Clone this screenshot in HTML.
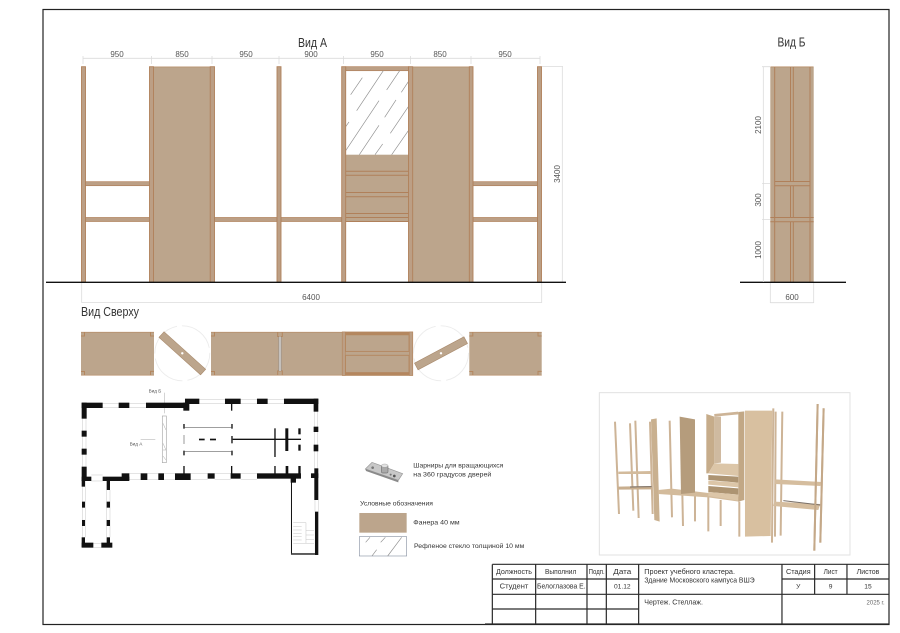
<!DOCTYPE html>
<html><head><meta charset="utf-8"><style>
html,body{margin:0;padding:0;background:#fff}
svg{display:block}
text{font-family:"Liberation Sans",sans-serif;fill:#333}
.d{font-size:8px;fill:#555;text-anchor:middle}
.dl{stroke:#dcdcdc;stroke-width:.8;fill:none}
.p{fill:#bc9f85;stroke:#b0805a;stroke-width:.9}
.s{fill:#bc9f85;stroke:#b0805a;stroke-width:.7}
.f{fill:#bca58c}
.c{fill:none;stroke:#b4875f;stroke-width:1}
.h{stroke:#909090;stroke-width:2;fill:none}
.k{fill:#111}
.w{fill:none;stroke:#c8c8c8;stroke-width:1.5}
.g{stroke:#2a2a2a;stroke-width:3.6;fill:none}
.m{stroke:#cdb497;stroke-width:6;fill:none}
.m2{stroke:#c4a888;stroke-width:6;fill:none}
</style></head><body>
<svg width="900" height="633" viewBox="0 0 900 633" xmlns="http://www.w3.org/2000/svg">
<rect width="900" height="633" fill="#fff"/>
<rect x="43" y="9.5" width="846" height="615" fill="none" stroke="#222" stroke-width="1.2"/>

<!-- titles -->
<text x="298" y="47" style="font-size:12.5px" textLength="29" lengthAdjust="spacingAndGlyphs">Вид А</text>
<text x="777.5" y="46.5" style="font-size:12.5px" textLength="28" lengthAdjust="spacingAndGlyphs">Вид Б</text>
<text x="81" y="316" style="font-size:13px" textLength="58" lengthAdjust="spacingAndGlyphs">Вид Сверху</text>

<!-- dimensions view A -->
<path class="dl" d="M83 58.3H540M83 56v8M151.5 56v8M212 56v8M279 56v8M343.5 56v8M410.5 56v8M471 56v8M540 56v8"/>
<g>
<text class="d" x="117" y="57">950</text><text class="d" x="182" y="57">850</text>
<text class="d" x="246" y="57">950</text><text class="d" x="311" y="57">900</text>
<text class="d" x="377" y="57">950</text><text class="d" x="440" y="57">850</text>
<text class="d" x="505" y="57">950</text>
</g>
<path class="dl" d="M542 66.5H563M562.3 66.5V282M81.7 283V302.5H541.7V283"/>
<text class="d" transform="translate(560,174) rotate(-90)">3400</text>
<text class="d" x="311" y="300">6400</text>

<!-- Elevation A -->
<rect class="f" x="153.5" y="66.7" width="57" height="215.5"/>
<path d="M153.5 66.9H210" stroke="#b4875f" stroke-width=".6"/>
<rect class="f" x="412.5" y="66.7" width="57" height="215.5"/>
<path d="M412.5 66.9H469" stroke="#b4875f" stroke-width=".6"/>
<rect class="s" x="85" y="181.7" width="65" height="4"/>
<rect class="s" x="85" y="217.5" width="65" height="4"/>
<rect class="s" x="214.5" y="217.5" width="63" height="4"/>
<rect class="s" x="281" y="217.5" width="61" height="4"/>
<rect class="s" x="473" y="181.7" width="65" height="4"/>
<rect class="s" x="473" y="217.5" width="65" height="4"/>
<rect class="f" x="345.7" y="154.7" width="63" height="67"/>
<path d="M345.7 171.3H408.5M345.7 175.3H408.5M345.7 192.5H408.5M345.7 196.7H408.5M345.7 213.5H408.5M345.7 217.5H408.5M345.7 221.5H408.5" stroke="#b0805a" stroke-width="1"/>
<rect class="s" x="345.7" y="66.7" width="63" height="4"/>
<g transform="translate(330,30) scale(.3333)">
<path class="h" d="M62 194L97 143M80 242L160 122M170 180L209 122M214 187L235 155M164 262L198 210M47 290L57 276M47 362L147 212M181 310L235 230M88 374L147 286M135 374L158 342M185 374L235 302"/>
</g>
<rect class="p" x="81.5" y="66.7" width="4" height="215.5"/>
<rect class="p" x="149.5" y="66.7" width="4" height="215.5"/>
<rect class="p" x="210.2" y="66.7" width="4.3" height="215.5"/>
<rect class="p" x="277" y="66.7" width="4" height="215.5"/>
<rect class="p" x="341.7" y="66.7" width="4" height="215.5"/>
<rect class="p" x="408.5" y="66.7" width="4.2" height="215.5"/>
<rect class="p" x="469.3" y="66.7" width="3.7" height="215.5"/>
<rect class="p" x="537.5" y="66.7" width="4" height="215.5"/>
<path d="M46 282.3H566" stroke="#111" stroke-width="1.3"/>

<!-- View B -->
<rect class="f" x="770.3" y="66.7" width="43.4" height="215.5"/>
<path d="M770.5 66.9H813.5" stroke="#b4875f" stroke-width=".8"/>
<path d="M774.7 181.5H810M774.7 185.7H810M770.3 217.5H813.7M770.3 221.7H813.7" stroke="#b0805a" stroke-width="1"/>
<path d="M774.7 67V282M810 67V282M790.5 67V181.5M793.3 67V181.5M790.5 185.7V217.5M793.3 185.7V217.5M790.5 221.7V282M793.3 221.7V282" stroke="#b0805a" stroke-width="1"/>
<path d="M740 282.3H846" stroke="#111" stroke-width="1.3"/>
<path class="dl" d="M763.3 66.7V282M762 66.7h8M762 183.5h8M762 219.5h8M770.3 283V303M813.7 283V303M770.3 302.7H813.7"/>
<text class="d" transform="translate(761,125) rotate(-90)">2100</text>
<text class="d" transform="translate(761,200) rotate(-90)">300</text>
<text class="d" transform="translate(761,250) rotate(-90)">1000</text>
<text class="d" x="792" y="300">600</text>

<!-- Top view -->
<g>
<rect class="f" x="81" y="332" width="73" height="43.4"/>
<rect class="f" x="211" y="332" width="131" height="43.4"/>
<rect class="f" x="469.3" y="332" width="72.4" height="43.4"/>
<rect class="f" x="342" y="332" width="70.7" height="43.4"/>
<path d="M81 332.2H154M81 375.2H154M211 332.2H342M211 375.2H342M469.3 332.2H541.7M469.3 375.2H541.7" stroke="#b4875f" stroke-width=".6"/>
<path class="c" stroke-width=".8" d="M81 336h3.5v-4M150.5 332v4h3.5M81 371.5h3.5v4M150.5 375.4v-4h3.5M211 336h3.5v-4M211 371.5h3.5v4M469.3 336h3.5v-4M538 332v4h3.7M469.3 371.5h3.5v4M538 375.4v-4h3.7M277.7 332v4.5h4.6V332M277.7 375.4v-4.5h4.6v4.5"/>
<rect x="279" y="336.5" width="2" height="34.5" fill="#e8e4e0"/>
<path d="M279 336.5V371M281 336.5V371" stroke="#8f8a86" stroke-width=".8"/>
<rect x="342.3" y="332" width="70.4" height="43.4" fill="none" stroke="#b4875f" stroke-width=".8"/>
<rect x="342.3" y="332" width="3" height="43.4" fill="#bc9f85" stroke="#b4875f" stroke-width=".6"/>
<rect x="409.4" y="332" width="3.3" height="43.4" fill="#bc9f85" stroke="#b4875f" stroke-width=".6"/>
<rect x="345.3" y="332" width="64" height="2.6" fill="#b4875f"/>
<rect x="345.3" y="372.6" width="64" height="2.6" fill="#b4875f"/>
<rect x="345.5" y="334.8" width="63.5" height="16.6" fill="none" stroke="#b4875f" stroke-width=".9"/>
<rect x="345.5" y="355.3" width="63.5" height="17.3" fill="none" stroke="#b4875f" stroke-width=".9"/>

<circle cx="182.3" cy="353.3" r="27.5" fill="none" stroke="#ececec" stroke-width=".9" stroke-dasharray="38 5"/>
<circle cx="441" cy="353.3" r="27.5" fill="none" stroke="#ececec" stroke-width=".9" stroke-dasharray="38 5"/>
<rect x="154.3" y="349.5" width="56" height="7.6" transform="rotate(42 182.3 353.3)" fill="#bca58c" stroke="#a98a6c" stroke-width=".6"/>
<rect x="413" y="349.5" width="56" height="7.6" transform="rotate(-28 441 353.3)" fill="#bca58c" stroke="#a98a6c" stroke-width=".6"/>
<circle cx="182.3" cy="353.3" r="1.2" fill="#fff"/>
<circle cx="441" cy="353.3" r="1.2" fill="#fff"/>
</g>

<!-- Plan -->
<g transform="translate(70,380) scale(.3333)">
<text x="255" y="37" text-anchor="middle" style="font-size:14px;fill:#555">Вид Б</text>
<text x="198" y="197" text-anchor="middle" style="font-size:14px;fill:#555">Вид А</text>
<path d="M283 38V100M212 178H256" stroke="#aaa" stroke-width="1.5"/>
<path class="w" d="M98 70H146M98 82H146M178 70H228M178 82H228M388 58H465M388 70H465M512 58H561M512 70H561M593 58H642M593 70H642M37 116V260M48 116V260M733 95V265M743 95V265M178 280H212M178 298H212M232 280H265M232 298H265M282 280H315M282 298H315M362 280H413M362 298H413M434 280H482M434 298H482M512 280H561M512 298H561M735 360V395M745 360V395M37 300V472M47 300V472M110 330V472M120 330V472M64 285H98M64 303H98M70 490H94M70 503H94"/>
<g class="k">
<rect x="35" y="68" width="63" height="16"/><rect x="146" y="68" width="32" height="16"/><rect x="228" y="68" width="120" height="16"/>
<rect x="345" y="56" width="43" height="16"/><rect x="340" y="68" width="18" height="24"/><rect x="465" y="56" width="47" height="16"/><rect x="561" y="56" width="32" height="16"/><rect x="642" y="56" width="103" height="16"/>
<rect x="35" y="68" width="15" height="48"/><rect x="35" y="152" width="15" height="18"/><rect x="35" y="206" width="15" height="18"/><rect x="35" y="260" width="15" height="42"/>
<rect x="731" y="56" width="14" height="39"/><rect x="731" y="140" width="14" height="16"/><rect x="731" y="194" width="14" height="20"/><rect x="733" y="265" width="12" height="95"/><rect x="735" y="395" width="10" height="130"/>
<rect x="35" y="290" width="29" height="13"/><rect x="98" y="290" width="80" height="13"/><rect x="155" y="280" width="23" height="20"/><rect x="212" y="280" width="20" height="20"/><rect x="265" y="280" width="17" height="20"/><rect x="315" y="280" width="47" height="20"/><rect x="413" y="280" width="21" height="16"/><rect x="482" y="280" width="30" height="16"/><rect x="561" y="280" width="132" height="16"/><rect x="662" y="290" width="16" height="18"/><rect x="723" y="280" width="22" height="14"/>
<rect x="35" y="300" width="10" height="20"/><rect x="110" y="300" width="10" height="30"/><rect x="36" y="365" width="9" height="18"/><rect x="36" y="420" width="9" height="18"/><rect x="110" y="365" width="10" height="18"/><rect x="110" y="420" width="10" height="18"/><rect x="35" y="472" width="10" height="30"/><rect x="110" y="472" width="10" height="30"/><rect x="35" y="488" width="35" height="15"/><rect x="94" y="488" width="33" height="15"/>
<rect x="483" y="70" width="4" height="22"/><rect x="340" y="258" width="4" height="24"/><rect x="483" y="258" width="4" height="24"/><rect x="613" y="258" width="4" height="24"/><rect x="647" y="258" width="8" height="24"/><rect x="685" y="258" width="7" height="24"/>
<rect x="484" y="132" width="4" height="14"/><rect x="484" y="168" width="4" height="22"/><rect x="484" y="212" width="4" height="14"/>
<rect x="340" y="132" width="4" height="14"/><rect x="340" y="212" width="4" height="14"/><rect x="387" y="176" width="17" height="5"/><rect x="420" y="176" width="18" height="5"/>
<rect x="488" y="176" width="205" height="4"/><rect x="613" y="145" width="4" height="86"/><rect x="646" y="145" width="9" height="68"/><rect x="685" y="145" width="7" height="18"/><rect x="685" y="194" width="7" height="18"/>
<rect x="663" y="305" width="3" height="215"/><rect x="663" y="520" width="72" height="4"/>
</g>
<path d="M344 143H484M344 215H484" stroke="#666" stroke-width="2"/>
<path d="M342 165V192" stroke="#999" stroke-width="3"/>
<rect x="277" y="108" width="12" height="140" fill="none" stroke="#aaa" stroke-width="2"/>
<path d="M279 130L288 150M279 190L288 210M279 210H288M279 228L288 240" stroke="#aaa" stroke-width="1.5"/>
<path fill="none" stroke="#c4c4c4" stroke-width="1.5" d="M670 428H708V490H670M670 440H695M670 450H695M670 460H695M670 470H695M670 480H695M708 452H732M708 465H732M708 478H732M708 490H732"/>
</g>

<!-- Hinge and legend -->
<g transform="translate(350,445) scale(.3333)">
<polygon points="46,72 66,52 158,86 145,106" fill="#c8c8c8" stroke="#999" stroke-width="2"/>
<polygon points="46,72 145,106 145,112 48,78" fill="#8a8a8a"/>
<rect x="94" y="60" width="20" height="24" rx="5" fill="#aaa" stroke="#777" stroke-width="2"/>
<ellipse cx="104" cy="62" rx="10" ry="5" fill="#e2e2e2" stroke="#888"/>
<circle cx="68" cy="68" r="4" fill="#777"/><circle cx="133" cy="93" r="4" fill="#555"/><circle cx="122" cy="89" r="3" fill="#777"/>
<text x="190" y="67" style="font-size:20px" textLength="270" lengthAdjust="spacingAndGlyphs">Шарниры для вращающихся</text>
<text x="190" y="94" style="font-size:20px" textLength="234" lengthAdjust="spacingAndGlyphs">на 360 градусов дверей</text>
<text x="30" y="181" style="font-size:20px" textLength="219" lengthAdjust="spacingAndGlyphs">Условные обозначения</text>
<rect x="28" y="204" width="142" height="59" fill="#bca58c"/>
<rect x="28" y="275" width="142" height="58" fill="#fff" stroke="#8f98a8" stroke-width="2"/>
<path class="h" stroke-width="1.5" d="M47 292L60 277M92 292L106 277M113 333L155 277M66 333L80 314"/>
<text x="190" y="239" style="font-size:20px" textLength="139" lengthAdjust="spacingAndGlyphs">Фанера 40 мм</text>
<text x="192" y="309" style="font-size:20px" textLength="331" lengthAdjust="spacingAndGlyphs">Рефленое стекло толщиной 10 мм</text>
</g>

<!-- Render -->
<g transform="translate(595,390) scale(.3333)">
<rect x="13" y="8" width="752" height="487" fill="#fff" stroke="#e2e2e2" stroke-width="3"/>
<path class="m" d="M60 95L72 372M105 100L115 362M121 92L131 384M165 95L173 372M224 92L231 382M262 310L264 408M300 310L300 394M340 320L340 424M377 330L377 408M433 335L433 440M535 55L531 458M542 65L540 440M562 65L557 437M668 42L658 482M686 55L676 458"/>
<polygon points="70,245 168,243 168,252 70,252" fill="#d3bb9c"/>
<polygon points="70,290 170,288 170,298 70,299" fill="#c8ae8e"/>
<path d="M105 291L170 290" stroke="#7a7068" stroke-width="3"/>
<polygon points="168,88 185,85 194,395 178,390" fill="#c9b08f"/>
<polygon points="190,300 230,296 432,320 432,335 340,322 190,312" fill="#d3bb9c"/>
<polygon points="254,80 300,88 300,308 258,312" fill="#b59c7c"/>
<polygon points="358,80 378,80 378,218 358,220" fill="#cfbaa0"/>
<polygon points="334,72 358,80 358,220 340,250 334,250" fill="#c6ac8a"/>
<path d="M358 76L430 69" stroke="#cdb497" stroke-width="8"/>
<polygon points="340,250 358,220 430,222 430,258" fill="#dcc6a8"/>
<polygon points="340,255 430,260 430,278 340,270" fill="#ad9472"/>
<polygon points="340,272 430,278 430,292 340,284" fill="#dcc6a8"/>
<polygon points="340,288 430,295 430,314 340,306" fill="#ad9472"/>
<polygon points="340,306 430,314 430,332 340,318" fill="#dcc6a8"/>
<polygon points="430,66 448,64 448,330 430,335" fill="#c2a886"/>
<polygon points="450,62 532,62 527,438 450,440" fill="#d8c0a0"/>
<polygon points="540,268 680,276 676,288 540,282" fill="#d5bd9e"/>
<polygon points="538,335 676,342 670,360 535,348" fill="#d5bd9e"/>
<path d="M565 332L676 345" stroke="#7a7068" stroke-width="3"/>
<path class="m2" d="M668 42L658 482M686 55L676 458"/>
</g>

<!-- Title block -->
<g transform="translate(485,555) scale(.3333)">
<path class="g" d="M22 28H1213M22 72H461M891 72H1213M22 118H1213M22 162H461M0 207H1213M22 28V207M152 28V207M306 28V207M364 28V207M461 28V207M891 28V207M989 28V118M1086 28V118"/>
<text x="87" y="57" text-anchor="middle" style="font-size:21px" textLength="108" lengthAdjust="spacingAndGlyphs">Должность</text>
<text x="227" y="57" text-anchor="middle" style="font-size:21px" textLength="94" lengthAdjust="spacingAndGlyphs">Выполнил</text>
<text x="335" y="57" text-anchor="middle" style="font-size:21px" textLength="48" lengthAdjust="spacingAndGlyphs">Подп.</text>
<text x="412" y="57" text-anchor="middle" style="font-size:21px" textLength="54" lengthAdjust="spacingAndGlyphs">Дата</text>
<text x="478" y="57" style="font-size:21px" textLength="272" lengthAdjust="spacingAndGlyphs">Проект учебного кластера.</text>
<text x="478" y="82" style="font-size:21px" textLength="331" lengthAdjust="spacingAndGlyphs">Здание Московского кампуса ВШЭ</text>
<text x="940" y="57" text-anchor="middle" style="font-size:21px" textLength="74" lengthAdjust="spacingAndGlyphs">Стадия</text>
<text x="1037" y="57" text-anchor="middle" style="font-size:21px" textLength="42" lengthAdjust="spacingAndGlyphs">Лист</text>
<text x="1149" y="57" text-anchor="middle" style="font-size:21px" textLength="68" lengthAdjust="spacingAndGlyphs">Листов</text>
<text x="87" y="100" text-anchor="middle" style="font-size:21px" textLength="86" lengthAdjust="spacingAndGlyphs">Студент</text>
<text x="229" y="100" text-anchor="middle" style="font-size:21px" textLength="146" lengthAdjust="spacingAndGlyphs">Белоглазова Е.</text>
<text x="412" y="100" text-anchor="middle" style="font-size:20px">01.12</text>
<text x="940" y="100" text-anchor="middle" style="font-size:20px">У</text>
<text x="1037" y="100" text-anchor="middle" style="font-size:20px">9</text>
<text x="1149" y="100" text-anchor="middle" style="font-size:20px">15</text>
<text x="478" y="149" style="font-size:21px" textLength="176" lengthAdjust="spacingAndGlyphs">Чертеж. Стеллаж.</text>
<text x="1199" y="148" text-anchor="end" style="font-size:18px;fill:#666">2025 г.</text>
</g>
</svg>
</body></html>
